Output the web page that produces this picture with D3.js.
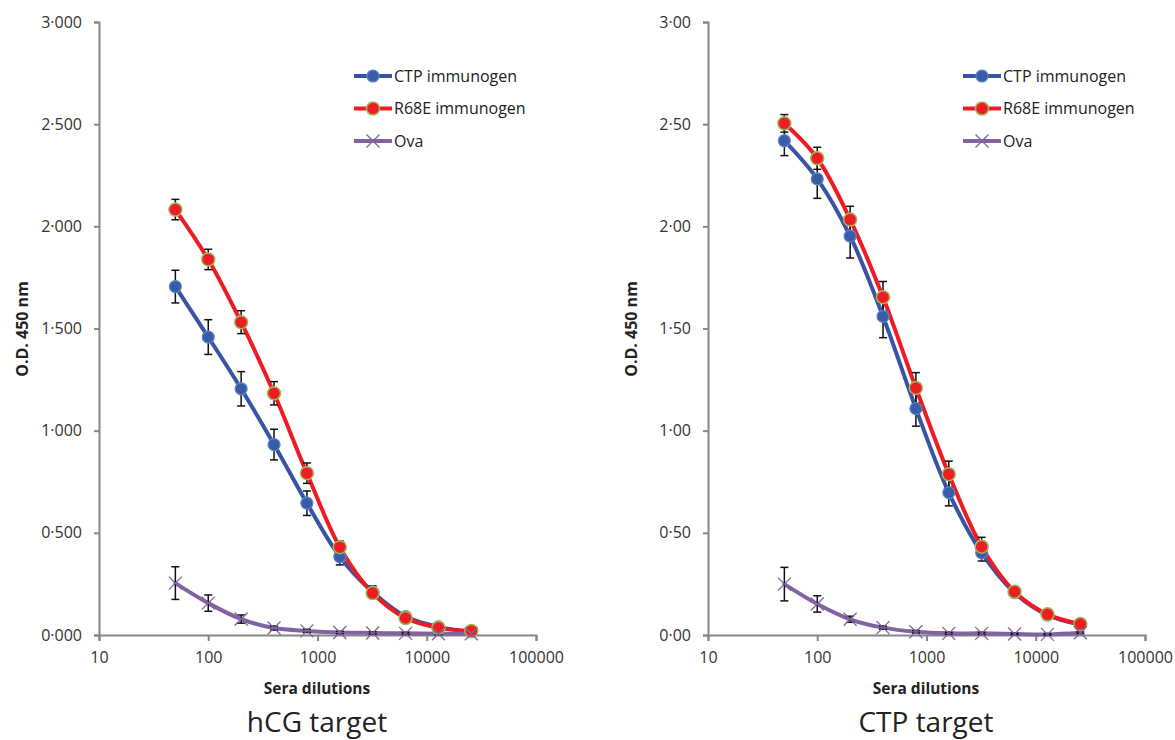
<!DOCTYPE html>
<html>
<head>
<meta charset="utf-8">
<script src="https://cdn.jsdelivr.net/npm/d3@7"></script>
<style>
  body { margin: 0; background: #fff; }
  svg { font-family: 'Open Sans', 'Noto Sans', sans-serif; }
</style>
</head>
<body>
<svg id="chart" width="1175" height="740"></svg>
<script>
const dilutions = [50, 100, 200, 400, 800, 1600, 3200, 6400, 12800, 25600]
const seriesNames = ['CTP immunogen', 'R68E immunogen', 'Ova']
const xTicks = [10, 100, 1000, 10000, 100000]

// hCG target panel
const hcgCtp = [1.705, 1.458, 1.205, 0.932, 0.645, 0.383, 0.21, 0.09, 0.04, 0.016]
const hcgCtpErr = [0.08, 0.085, 0.084, 0.075, 0.06, 0.04, 0.03, 0.015, 0.01, 0.008]
const hcgR68e = [2.082, 1.838, 1.531, 1.183, 0.792, 0.43, 0.205, 0.083, 0.035, 0.02]
const hcgR68eErr = [0.05, 0.05, 0.056, 0.057, 0.05, 0.03, 0.02, 0.01, 0.008, 0.006]
const hcgOva = [0.254, 0.156, 0.078, 0.034, 0.02, 0.012, 0.01, 0.008, 0.006, 0.006]
const hcgOvaErr = [0.08, 0.04, 0.02, 0.01, 0.008, 0.006, 0.006, 0.005, 0.005, 0.005]
const hcgYTicks = ['0·000', '0·500', '1·000', '1·500', '2·000', '2·500', '3·000']

// CTP target panel
const ctpCtp = [2.419, 2.232, 1.952, 1.559, 1.108, 0.697, 0.402, 0.207, 0.098, 0.05]
const ctpCtpErr = [0.073, 0.095, 0.107, 0.104, 0.086, 0.065, 0.04, 0.015, 0.01, 0.008]
const ctpR68e = [2.504, 2.333, 2.033, 1.653, 1.209, 0.787, 0.432, 0.212, 0.101, 0.054]
const ctpR68eErr = [0.043, 0.054, 0.065, 0.077, 0.075, 0.064, 0.046, 0.015, 0.01, 0.008]
const ctpOva = [0.249, 0.152, 0.077, 0.036, 0.016, 0.008, 0.008, 0.005, 0.003, 0.011]
const ctpOvaErr = [0.082, 0.04, 0.015, 0.008, 0.006, 0.005, 0.005, 0.004, 0.004, 0.004]
const ctpYTicks = ['0·00', '0·50', '1·00', '1·50', '2·00', '2·50', '3·00']

const colors = ['#3953a4', '#ed1c24', '#8064a2']
const svg = d3.select('#chart')

function drawPanel(cfg) {
  const x = d3.scaleLog().domain([10, 100000]).range([cfg.left, cfg.left + 437])
  const y = d3.scaleLinear().domain([0, 3]).range([635, 22])
  const g = svg.append('g')

  // y axis
  const yAxis = d3.axisLeft(y)
    .tickValues(d3.range(0, 3.01, 0.5))
    .tickSize(5)
    .tickFormat((d, i) => cfg.yTicks[i])
  const ya = g.append('g').attr('transform', 'translate(' + cfg.left + ',0)').call(yAxis)
  ya.select('.domain').attr('stroke', '#868686').attr('stroke-width', 2)
  ya.selectAll('.tick line').attr('stroke', '#868686').attr('stroke-width', 2)
  ya.selectAll('.tick text').attr('font-size', 16).attr('fill', '#333').attr('x', -17)
    .attr('font-family', "'Open Sans', sans-serif")

  // x axis
  const xAxis = d3.axisBottom(x).tickValues(xTicks).tickSize(6).tickFormat(d3.format('d'))
  const xa = g.append('g').attr('transform', 'translate(0,635)').call(xAxis)
  xa.select('.domain').attr('stroke', '#868686').attr('stroke-width', 2)
  xa.selectAll('.tick line').attr('stroke', '#868686').attr('stroke-width', 2)
  xa.selectAll('.tick text').attr('font-size', 16).attr('fill', '#333').attr('y', 17)
    .attr('font-family', "'Open Sans', sans-serif")

  // axis titles
  g.append('text')
    .text('Sera dilutions')
    .attr('x', cfg.left + 218)
    .attr('y', 694)
    .attr('font-size', 15.5)
    .attr('font-weight', 'bold')
    .attr('fill', '#222')
    .attr('text-anchor', 'middle')
  g.append('text')
    .text('O.D. 450 nm')
    .attr('transform', 'translate(' + (cfg.left - 71) + ',329) rotate(-90)')
    .attr('font-size', 16)
    .attr('font-weight', 'bold')
    .attr('fill', '#222')
    .attr('text-anchor', 'middle')
  g.append('text')
    .text(cfg.title)
    .attr('x', cfg.left + 218)
    .attr('y', 732)
    .attr('font-size', 28)
    .attr('fill', '#222')
    .attr('text-anchor', 'middle')

  const line = d3.line()
    .x(d => x(d.dil))
    .y(d => y(d.v))
    .curve(d3.curveCatmullRom.alpha(0.5))

  const series = cfg.series.map((s, k) => ({
    name: seriesNames[k],
    color: colors[k],
    pts: dilutions.map((dil, i) => ({ dil: dil, v: s.vals[i], e: s.errs[i] }))
  }))

  // lines
  series.forEach(s => {
    g.append('path')
      .datum(s.pts)
      .attr('d', line)
      .attr('fill', 'none')
      .attr('stroke', s.color)
      .attr('stroke-width', 4)
      .attr('stroke-linecap', 'round')
  })

  // error bars
  series.forEach(s => {
    const eb = g.append('g').selectAll('g').data(s.pts).enter().append('g')
    eb.append('line')
      .attr('x1', d => x(d.dil)).attr('x2', d => x(d.dil))
      .attr('y1', d => y(d.v - d.e)).attr('y2', d => y(d.v + d.e))
      .attr('stroke', '#111').attr('stroke-width', 1.5)
    eb.append('line')
      .attr('x1', d => x(d.dil) - 4).attr('x2', d => x(d.dil) + 4)
      .attr('y1', d => y(d.v + d.e)).attr('y2', d => y(d.v + d.e))
      .attr('stroke', '#111').attr('stroke-width', 1.5)
    eb.append('line')
      .attr('x1', d => x(d.dil) - 4).attr('x2', d => x(d.dil) + 4)
      .attr('y1', d => y(d.v - d.e)).attr('y2', d => y(d.v - d.e))
      .attr('stroke', '#111').attr('stroke-width', 1.5)
  })

  // markers
  series.forEach((s, k) => {
    drawMarkers(g, s.pts.map(d => [x(d.dil), y(d.v)]), k)
  })

  // legend
  const lg = g.append('g').attr('transform', 'translate(' + (cfg.left + 255) + ',0)')
  series.forEach((s, k) => {
    const ly = 76 + k * 32.5
    lg.append('line')
      .attr('x1', 0).attr('x2', 38).attr('y1', ly).attr('y2', ly)
      .attr('stroke', s.color).attr('stroke-width', 4)
    drawMarkers(lg, [[19, ly]], k)
    lg.append('text')
      .text(s.name)
      .attr('x', 40)
      .attr('y', ly + 5.5)
      .attr('font-size', 16)
      .attr('fill', '#222')
  })
}

function drawMarkers(g, pts, k) {
  if (k === 0) {
    g.selectAll(null).data(pts).enter().append('circle')
      .attr('cx', d => d[0]).attr('cy', d => d[1]).attr('r', 6)
      .attr('fill', '#3a5ba8').attr('stroke', '#5b86c5').attr('stroke-width', 1.2)
  } else if (k === 1) {
    g.selectAll(null).data(pts).enter().append('circle')
      .attr('cx', d => d[0]).attr('cy', d => d[1]).attr('r', 6.5)
      .attr('fill', '#ee1c25').attr('stroke', '#9bbb59').attr('stroke-width', 1.5)
  } else {
    const s = 6.5
    g.selectAll(null).data(pts).enter().append('path')
      .attr('d', d => 'M' + (d[0] - s) + ',' + (d[1] - s) + 'L' + (d[0] + s) + ',' + (d[1] + s) +
        'M' + (d[0] - s) + ',' + (d[1] + s) + 'L' + (d[0] + s) + ',' + (d[1] - s))
      .attr('stroke', '#8064a2').attr('stroke-width', 1.3).attr('fill', 'none')
  }
}

drawPanel({
  left: 99,
  title: 'hCG target',
  yTicks: hcgYTicks,
  series: [
    { vals: hcgCtp, errs: hcgCtpErr },
    { vals: hcgR68e, errs: hcgR68eErr },
    { vals: hcgOva, errs: hcgOvaErr }
  ]
})

drawPanel({
  left: 708,
  title: 'CTP target',
  yTicks: ctpYTicks,
  series: [
    { vals: ctpCtp, errs: ctpCtpErr },
    { vals: ctpR68e, errs: ctpR68eErr },
    { vals: ctpOva, errs: ctpOvaErr }
  ]
})
</script>
</body>
</html>
